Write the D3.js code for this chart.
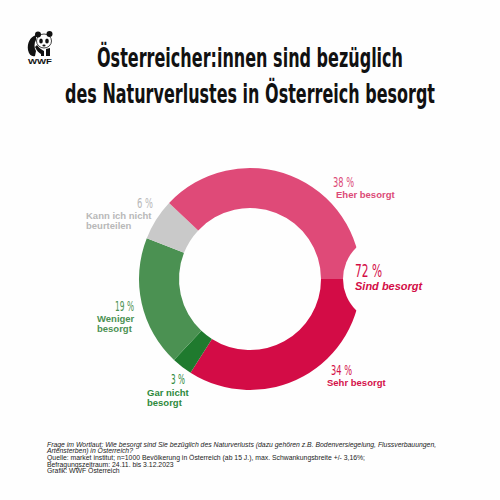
<!DOCTYPE html>
<html>
<head>
<meta charset="utf-8">
<script src="https://cdn.jsdelivr.net/npm/d3@7"></script>
<style>
  html, body { margin: 0; padding: 0; background: #ffffff; }
  svg { display: block; }
</style>
</head>
<body>
<div id="chart"></div>
<script>
// ---- data ----
const categories = ["Sehr besorgt", "Gar nicht besorgt", "Weniger besorgt", "Kann ich nicht beurteilen", "Eher besorgt"];
const values = [34, 3, 19, 6, 38];
const colors = ["#d30c46", "#1f7a2e", "#4b9152", "#c9c9c9", "#df4a78"];
const percentLabels = ["34 %", "3 %", "19 %", "6 %", "38 %"];
const labelLines = [["Sehr besorgt"], ["Gar nicht", "besorgt"], ["Weniger", "besorgt"], ["Kann ich nicht", "beurteilen"], ["Eher besorgt"]];
const labelColors = ["#d41049", "#2f8a3c", "#4b9152", "#b8b8b8", "#dc4a77"];
const totalLabel = "72 %";
const totalText = "Sind besorgt";
const titleLines = ["Österreicher:innen sind bezüglich", "des Naturverlustes in Österreich besorgt"];
const footLines = [
  "Frage im Wortlaut: Wie besorgt sind Sie bezüglich des Naturverlusts (dazu gehören z.B. Bodenversiegelung, Flussverbauungen,",
  "Artensterben) in Österreich?",
  "Quelle: market institut; n=1000 Bevölkerung in Österreich (ab 15 J.), max. Schwankungsbreite +/- 3,16%;",
  "Befragungszeitraum: 24.11. bis 3.12.2023",
  "Grafik: WWF Österreich"
];

// ---- layout ----
const W = 500, H = 500;
const cx = 250, cy = 279, R = 111, r = 71;
const condensed = "'DejaVu Sans Condensed', 'Liberation Sans Narrow', 'DejaVu Sans', sans-serif";
const arial = "'Liberation Sans', Arial, Helvetica, sans-serif";

const svg = d3.select("#chart").append("svg").attr("width", W).attr("height", H);
svg.append("rect").attr("width", W).attr("height", H).attr("fill", "#fefefe");

// title
const titleY = [67, 103];
const titleW = [306, 370];
titleLines.forEach((t, i) => {
  svg.append("text")
    .attr("transform", `translate(250,${titleY[i]}) scale(1,1.35)`)
    .attr("x", 0).attr("y", 0)
    .attr("text-anchor", "middle")
    .attr("font-family", condensed)
    .attr("font-weight", "bold")
    .attr("font-size", 20)
    .attr("textLength", titleW[i])
    .attr("lengthAdjust", "spacingAndGlyphs")
    .attr("fill", "#111")
    .text(t);
});

// WWF logo (simplified panda)
const logo = svg.append("g").attr("transform", "translate(27,29)");
logo.append("path").attr("fill", "#111")
  .attr("d", "M9,6 C3,8 0,14 1,21 C2,26 5,28 8,27 L9,22 C7,19 7,14 9,11 Z");
logo.append("ellipse").attr("cx", 17).attr("cy", 12).attr("rx", 7.5).attr("ry", 7).attr("fill", "#fff").attr("stroke", "#111").attr("stroke-width", 0.8);
logo.append("circle").attr("cx", 11).attr("cy", 5.5).attr("r", 3).attr("fill", "#111");
logo.append("circle").attr("cx", 22.5).attr("cy", 5).attr("r", 3).attr("fill", "#111");
logo.append("ellipse").attr("cx", 14).attr("cy", 12).attr("rx", 1.8).attr("ry", 2.6).attr("fill", "#111");
logo.append("ellipse").attr("cx", 20).attr("cy", 12).attr("rx", 1.8).attr("ry", 2.6).attr("fill", "#111");
logo.append("ellipse").attr("cx", 17).attr("cy", 16.5).attr("rx", 1.6).attr("ry", 1).attr("fill", "#111");
logo.append("path").attr("fill", "#111")
  .attr("d", "M8,18 C10,22 12,24 14,25 L14,27 L17,27 L17,22 C15,21 12,19 10,16 Z");
logo.append("path").attr("fill", "#111")
  .attr("d", "M19,20 L19,27 L23,27 L23,19 Z");
logo.append("text").attr("x", 13).attr("y", 35).attr("text-anchor", "middle")
  .attr("font-family", arial).attr("font-weight", "bold").attr("font-size", 7.5)
  .attr("textLength", 24).attr("lengthAdjust", "spacingAndGlyphs")
  .attr("fill", "#111").text("WWF");

// donut
const pie = d3.pie().sort(null).value(d => d)
  .startAngle(Math.PI / 2).endAngle(Math.PI / 2 + 2 * Math.PI);
const arc = d3.arc().innerRadius(r).outerRadius(R);
const g = svg.append("g").attr("transform", `translate(${cx},${cy})`);
g.selectAll("path.slice").data(pie(values)).join("path")
  .attr("class", "slice")
  .attr("d", arc)
  .attr("fill", (d, i) => colors[i]);

// white disc behind the total label
g.append("circle").attr("cx", R + 26).attr("cy", 0).attr("r", 44).attr("fill", "#fefefe");

// total label
svg.append("text").attr("x", 355).attr("y", 277)
  .attr("font-family", condensed).attr("font-size", 17.5)
  .attr("textLength", 27).attr("lengthAdjust", "spacingAndGlyphs")
  .attr("fill", "#d30c46").text(totalLabel);
svg.append("text").attr("x", 355).attr("y", 290)
  .attr("font-family", arial).attr("font-weight", "bold").attr("font-style", "italic")
  .attr("font-size", 11).attr("fill", "#d30c46").text(totalText);

// slice labels (layout positions)
const labelPos = [
  { px: 331, py: 375, pw: 21, lx: 327, ly: 386 },   // Sehr
  { px: 171, py: 384, pw: 14, lx: 147, ly: 396 },   // Gar nicht
  { px: 115, py: 311, pw: 19, lx: 97, ly: 322 },    // Weniger
  { px: 137, py: 208, pw: 16, lx: 86, ly: 219 },    // Kann
  { px: 333, py: 187, pw: 21, lx: 336, ly: 197.5 }  // Eher
];
pie(values).forEach((d, i) => {
  const p = labelPos[i];
  svg.append("text").attr("x", p.px).attr("y", p.py)
    .attr("font-family", condensed).attr("font-size", 13.5)
    .attr("textLength", p.pw).attr("lengthAdjust", "spacingAndGlyphs")
    .attr("fill", labelColors[i]).text(percentLabels[i]);
  labelLines[i].forEach((line, j) => {
    svg.append("text").attr("x", p.lx).attr("y", p.ly + j * 10)
      .attr("font-family", arial).attr("font-weight", "bold").attr("font-size", 9.5)
      .attr("fill", labelColors[i]).text(line);
  });
});

// footnote
footLines.forEach((t, i) => {
  svg.append("text").attr("x", 47).attr("y", 446.5 + i * 6.7)
    .attr("font-family", arial).attr("font-size", 6.85)
    .attr("font-style", i < 2 ? "italic" : "normal")
    .attr("fill", "#222").text(t);
});
</script>
</body>
</html>
